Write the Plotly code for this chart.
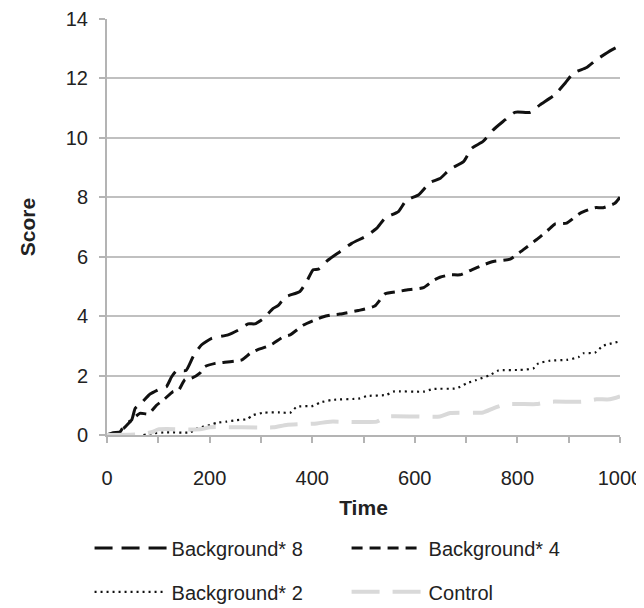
import plotly.graph_objects as go

# Background* 8 (long dash, black)
t_b8 = [0, 12, 25, 35, 48, 55, 68, 84, 107, 116, 126, 136, 154, 168, 184, 204, 236, 256, 275, 288,
        305, 324, 334, 347, 376, 389, 402, 412, 431, 454, 477, 506, 526, 542, 568, 584, 607, 630,
        649, 669, 695, 711, 733, 753, 772, 795, 825, 844, 873, 893, 909, 935, 954, 984, 1000]
v_b8 = [0, 0.08, 0.1, 0.37, 0.5, 0.9, 1.09, 1.38, 1.58, 1.63, 1.96, 2.17, 2.17, 2.64, 3.03, 3.25,
        3.37, 3.53, 3.74, 3.74, 3.92, 4.26, 4.36, 4.64, 4.83, 5.16, 5.56, 5.58, 5.89, 6.17, 6.45,
        6.70, 6.96, 7.3, 7.52, 7.91, 8.08, 8.5, 8.63, 8.95, 9.2, 9.65, 9.88, 10.27, 10.55, 10.86,
        10.86, 11.11, 11.45, 11.84, 12.18, 12.37, 12.63, 12.96, 13.1]

# Background* 4 (short dash, black)
t_b4 = [0, 10, 32, 48, 64, 81, 97, 110, 129, 139, 152, 165, 181, 191, 211, 263, 279, 292, 311,
        324, 344, 357, 383, 409, 422, 438, 454, 490, 522, 542, 568, 584, 617, 636, 649, 669, 688,
        711, 733, 753, 786, 811, 837, 864, 873, 896, 922, 951, 967, 990, 1000]
v_b4 = [0, 0, 0.22, 0.5, 0.73, 0.71, 1.01, 1.18, 1.46, 1.49, 1.87, 1.91, 2.08, 2.3, 2.41, 2.53,
        2.75, 2.86, 2.97, 3.08, 3.31, 3.37, 3.7, 3.9, 3.98, 4.04, 4.07, 4.19, 4.34, 4.75, 4.83,
        4.88, 4.96, 5.2, 5.31, 5.39, 5.39, 5.56, 5.72, 5.84, 5.92, 6.23, 6.57, 6.96, 7.1, 7.13,
        7.46, 7.65, 7.65, 7.8, 8.0]

# Background* 2 (dotted, black)
t_b2 = [71, 90, 116, 162, 175, 201, 214, 233, 253, 272, 285, 305, 337, 357, 370, 402, 415, 438,
        493, 506, 545, 558, 617, 636, 681, 701, 720, 747, 763, 805, 831, 841, 864, 896, 919, 929,
        951, 967, 1000]
v_b2 = [0, 0.06, 0.09, 0.09, 0.22, 0.34, 0.41, 0.45, 0.5, 0.53, 0.67, 0.75, 0.76, 0.75, 0.95,
        0.98, 1.09, 1.18, 1.23, 1.31, 1.35, 1.46, 1.46, 1.55, 1.57, 1.74, 1.85, 2.02, 2.17, 2.19,
        2.24, 2.41, 2.5, 2.53, 2.62, 2.75, 2.77, 3.0, 3.15]

# Control (light gray long dash)
t_ctl = [0, 61, 90, 100, 181, 201, 324, 350, 409, 435, 526, 545, 649, 669, 733, 753, 779, 837,
         864, 925, 954, 980, 1000]
v_ctl = [0, 0.02, 0.11, 0.19, 0.19, 0.26, 0.26, 0.34, 0.39, 0.45, 0.45, 0.62, 0.62, 0.74, 0.76,
         0.9, 1.04, 1.04, 1.12, 1.12, 1.2, 1.2, 1.3]

names = ["Background* 8", "Background* 4", "Background* 2", "Control"]
y_ticks = [0, 2, 4, 6, 8, 10, 12, 14]
x_ticks = [0, 200, 400, 600, 800, 1000]

FONT = "Liberation Sans, Arial, Helvetica, sans-serif"
AXC = "#b4b4b4"

fig = go.Figure()
fig.add_trace(go.Scatter(x=t_b8, y=v_b8, mode="lines", name=names[0], legend="legend",
                         line=dict(color="#111111", width=3, dash="18px,9px", shape="spline", smoothing=0.5)))
fig.add_trace(go.Scatter(x=t_b4, y=v_b4, mode="lines", name=names[1], legend="legend2",
                         line=dict(color="#111111", width=3, dash="11px,7px", shape="spline", smoothing=0.5)))
fig.add_trace(go.Scatter(x=t_b2, y=v_b2, mode="lines", name=names[2], legend="legend3",
                         line=dict(color="#111111", width=2.2, dash="2px,4px", shape="spline", smoothing=0.5)))
fig.add_trace(go.Scatter(x=t_ctl, y=v_ctl, mode="lines", name=names[3], legend="legend4",
                         line=dict(color="#d9d9d9", width=4, dash="28px,13px", shape="spline", smoothing=0.5)))

legend_common = dict(orientation="h", xanchor="left", yanchor="middle", yref="container",
                     itemwidth=72, visible=True,
                     font=dict(family=FONT, size=20, color="#222222"),
                     bgcolor="rgba(0,0,0,0)", itemclick=False, itemdoubleclick=False)

# page body has an 8px default margin, so the figure is sized to fit inside the window
fig.update_layout(
    width=636, height=600,
    showlegend=True,
    margin=dict(l=99, r=24, t=11, b=173),
    paper_bgcolor="white", plot_bgcolor="white",
    font=dict(family=FONT, size=20, color="#222222"),
    xaxis=dict(range=[0, 1000], tickvals=x_ticks, ticks="outside", ticklen=6, tickwidth=2,
               tickcolor=AXC, showline=True, linecolor=AXC, linewidth=2, automargin=False,
               showgrid=False, zeroline=False, ticklabelstandoff=18,
               tickfont=dict(size=20),
               minor=dict(dtick=100, ticks="outside", ticklen=6, tickwidth=2, tickcolor=AXC, showgrid=False),
               title=dict(text="<b>Time</b>", font=dict(size=21), standoff=12)),
    yaxis=dict(range=[0, 14], tickvals=y_ticks, ticks="outside", ticklen=6, tickwidth=2,
               tickcolor=AXC, showline=True, linecolor=AXC, linewidth=2, automargin=False,
               showgrid=True, gridcolor="#c0c0c0", gridwidth=2, zeroline=False,
               ticklabelstandoff=7, tickfont=dict(size=20),
               title=dict(text="<b>Score</b>", font=dict(size=21), standoff=24)),
    legend=dict(x=-0.034, y=0.10, **legend_common),
    legend2=dict(x=0.467, y=0.10, **legend_common),
    legend3=dict(x=-0.034, y=0.027, **legend_common),
    legend4=dict(x=0.467, y=0.027, **legend_common),
)

fig.write_html("out.html")
